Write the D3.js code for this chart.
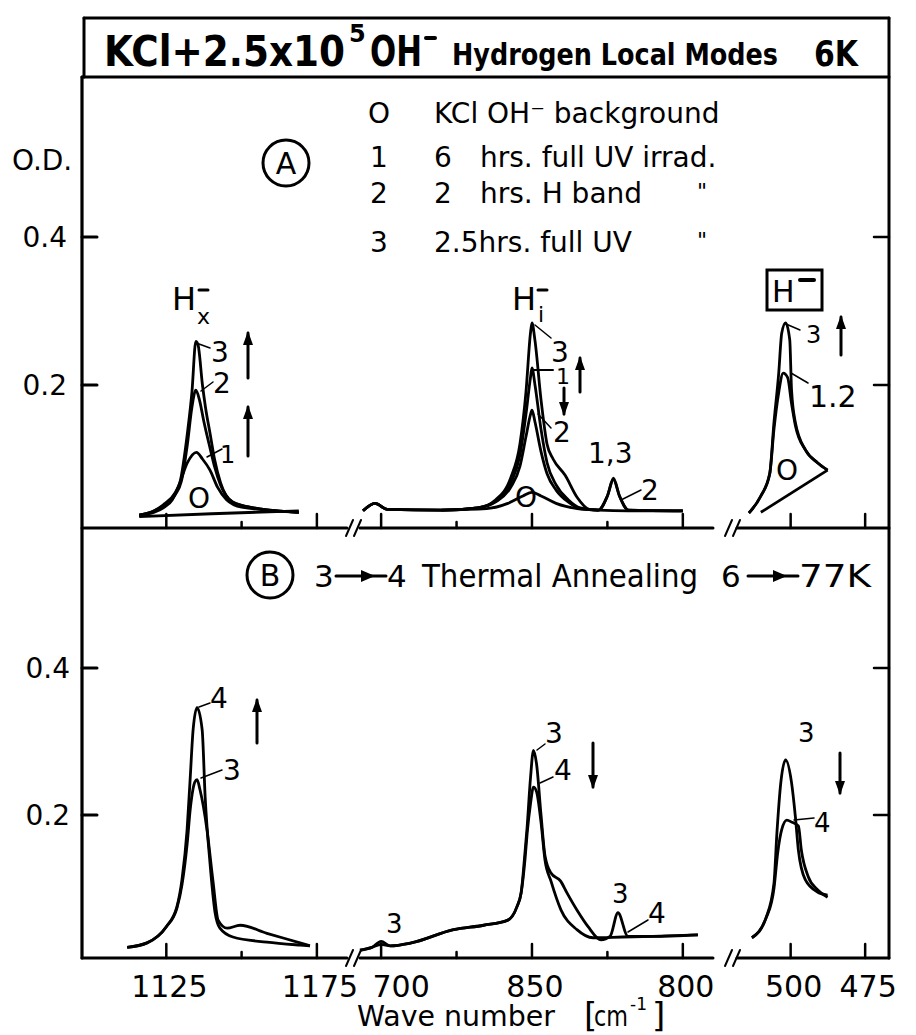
<!DOCTYPE html>
<html>
<head>
<meta charset="utf-8">
<script src="https://cdn.jsdelivr.net/npm/d3@7"></script>
<style>
body { margin: 0; background: #fff; }
svg text { font-family: "DejaVu Sans", sans-serif; fill: #000; }
</style>
</head>
<body>
<svg id="chart" width="916" height="1035"></svg>
<script>
// ---- values (wave number, O.D.) ----
// panel A, H_x- region
const aHx0 = [[1116,0.022],[1140,0.026],[1169,0.03]]
const aHx1 = [[1116,0.024],[1121,0.028],[1124,0.034],[1127,0.045],[1129.5,0.068],[1132,0.095],[1135,0.109],[1137,0.1],[1139.5,0.085],[1142,0.062],[1145,0.045],[1150,0.035],[1169,0.028]]
const aHx2 = [[1116,0.024],[1121,0.03],[1124,0.037],[1128,0.052],[1130,0.07],[1132,0.12],[1133.5,0.17],[1134.8,0.193],[1136,0.18],[1137.5,0.15],[1139.5,0.115],[1141,0.09],[1143,0.065],[1147,0.042],[1154,0.034],[1169,0.028]]
const aHx3 = [[1116,0.024],[1121,0.03],[1124,0.038],[1128,0.055],[1129.5,0.068],[1132,0.135],[1133.5,0.19],[1134.8,0.259],[1135.5,0.255],[1137,0.2],[1138,0.17],[1139.5,0.135],[1141,0.1],[1143,0.068],[1147,0.042],[1154,0.034],[1169,0.028]]
// panel A, H_i- region
const aHi0 = [[880,0.031],[865,0.033],[858,0.04],[853,0.05],[850,0.055],[847,0.05],[842,0.04],[835,0.033],[828,0.031]]
const aHi1 = [[906,0.03],[902,0.04],[898,0.032],[880,0.031],[868,0.034],[862,0.043],[857,0.068],[854,0.105],[852,0.16],[850.5,0.21],[850,0.223],[849,0.2],[847,0.14],[845,0.095],[842,0.065],[838,0.045],[834,0.034],[828,0.031],[825,0.05],[823,0.072],[821,0.05],[818,0.031],[800,0.03]]
const aHi2 = [[906,0.03],[902,0.04],[898,0.032],[880,0.031],[868,0.034],[862,0.042],[857,0.062],[854,0.09],[852,0.13],[850.5,0.16],[850,0.166],[849,0.15],[847,0.11],[845,0.08],[842,0.058],[838,0.042],[834,0.033],[828,0.031],[818,0.03],[800,0.03]]
const aHi3 = [[906,0.03],[902,0.04],[898,0.032],[880,0.031],[868,0.034],[862,0.045],[857,0.075],[854,0.12],[852,0.19],[850.5,0.27],[850,0.284],[849,0.26],[847,0.18],[845,0.12],[843,0.1],[839,0.078],[835,0.048],[831,0.032],[828,0.031],[825,0.05],[823,0.074],[821,0.05],[818,0.031],[800,0.03]]
// panel A, H- region
const aHm0 = [[510,0.028],[487.6,0.085]]
const aHm12 = [[514,0.027],[510,0.05],[507,0.08],[505.6,0.14],[504,0.19],[502.5,0.216],[501,0.21],[499.7,0.175],[498.4,0.145],[495,0.112],[491,0.095],[487.6,0.085]]
const aHm3 = [[514,0.027],[510,0.05],[507,0.081],[505.6,0.149],[504,0.216],[503,0.27],[501.7,0.284],[500.3,0.261],[499.7,0.193],[498.4,0.149],[495,0.112],[491,0.095],[487.6,0.085]]
// panel B
const bHx3 = [[1112,0.02],[1118.6,0.026],[1125,0.048],[1128.5,0.073],[1130.2,0.105],[1131.9,0.16],[1133,0.21],[1134.5,0.245],[1135.2,0.248],[1136.2,0.234],[1138.5,0.18],[1140.5,0.11],[1142.2,0.057],[1145.2,0.046],[1149.5,0.05],[1158.4,0.039],[1169.4,0.026],[1172.7,0.022]]
const bHx4 = [[1112,0.02],[1118.6,0.026],[1125,0.048],[1128.5,0.075],[1130.2,0.112],[1131.9,0.18],[1132.9,0.248],[1133.9,0.316],[1135.2,0.346],[1136.9,0.316],[1137.9,0.224],[1139.5,0.135],[1141.2,0.067],[1142.8,0.046],[1147.1,0.034],[1158.4,0.027],[1169.4,0.023],[1172.7,0.022]]
const bHi3 = [[907,0.016],[903,0.02],[900,0.028],[897,0.022],[890,0.026],[876,0.044],[866,0.05],[858,0.057],[855,0.075],[853.6,0.094],[852.3,0.15],[851.6,0.184],[850.5,0.25],[849.5,0.288],[848.5,0.27],[847,0.2],[845.7,0.145],[843.7,0.121],[840.5,0.11],[838.4,0.094],[835,0.07],[831.4,0.048],[827.1,0.03],[824.1,0.035],[821.5,0.067],[818.2,0.035],[810,0.035],[795,0.037]]
const bHi4 = [[907,0.016],[903,0.02],[900,0.024],[897,0.022],[890,0.026],[876,0.044],[866,0.05],[858,0.057],[855,0.075],[853.6,0.094],[852.3,0.14],[851.6,0.175],[850.5,0.215],[849.5,0.238],[848.5,0.232],[847,0.19],[845.7,0.139],[843.7,0.11],[840.4,0.071],[835.1,0.044],[829.8,0.033],[820,0.034],[810,0.035],[795,0.037]]
const bHm3 = [[513,0.033],[508.2,0.061],[505.6,0.107],[504.6,0.176],[503.3,0.244],[501.7,0.275],[499.7,0.244],[498.4,0.197],[497.4,0.152],[495.1,0.112],[490.9,0.095],[487.6,0.091]]
const bHm4 = [[513,0.033],[508.2,0.06],[505.6,0.1],[504.3,0.15],[503,0.18],[501.3,0.193],[499.5,0.19],[497.4,0.185],[496.4,0.152],[494.1,0.116],[490.9,0.098],[487.6,0.088]]

// axes
const yTicks = [0.2, 0.4]
const yTickLabels = ["0.2", "0.4"]
const xTickSegs = ["L", "L", "L", "M", "M", "M", "M", "M", "R", "R"]
const xTickVals = [1125, 1150, 1175, 900, 875, 850, 825, 800, 500, 475]
const xTickLabels = ["1125", "", "1175", "700", "", "850", "", "800", "500", "475"]

// legend of panel A
const legendKeys = ["O", "1", "2", "3"]
const legendNums = ["KCl OH\u207B background", "6", "2", "2.5hrs. full UV"]
const legendText = ["", "hrs. full UV irrad.", "hrs. H band", ""]
const legendDitto = [false, false, true, true]

// ---- layout ----
const svg = d3.select("#chart")
const ink = "#000"
const frame = {left: 82, right: 889, top: 18, titleBottom: 77, mid: 528, bottom: 958}

const x = {
    L: d3.scaleLinear().domain([1097, 1185]).range([82, 347]),
    M: d3.scaleLinear().domain([907, 790]).range([360, 713]),
    R: d3.scaleLinear().domain([518, 467]).range([737, frame.right])
}
const yA = d3.scaleLinear().domain([0, 0.4]).range([533, 237])
const yB = d3.scaleLinear().domain([0, 0.4]).range([962, 668])

const drawCurve = (data, xs, ys, w = 2.8) => {
    const line = d3.line().x(d => xs(d[0])).y(d => ys(d[1])).curve(d3.curveMonotoneX)
    svg.append("path").datum(data)
        .attr("d", line)
        .attr("fill", "none")
        .attr("stroke", ink)
        .attr("stroke-width", w)
        .attr("stroke-linejoin", "round")
}

const seg = (x1, y1, x2, y2, w = 2.5) => svg.append("line")
    .attr("x1", x1).attr("y1", y1).attr("x2", x2).attr("y2", y2)
    .attr("stroke", ink).attr("stroke-width", w).attr("stroke-linecap", "round")

const label = (tx, px, py, size = 28, anchor = "start") => svg.append("text")
    .attr("x", px).attr("y", py)
    .attr("font-size", size)
    .attr("text-anchor", anchor)
    .text(tx)

// arrow: shaft from y1 to y2, head at y2
const arrow = (px, y1, y2) => {
    seg(px, y1, px, y2, 3)
    const d = y2 < y1 ? -1 : 1
    svg.append("path")
        .attr("d", `M${px},${y2 + d * 2} L${px - 5},${y2 - d * 12} L${px + 5},${y2 - d * 12} Z`)
        .attr("fill", ink)
}

// ---- frame ----
seg(frame.left + 2, frame.top, frame.right, frame.top, 3)
seg(frame.left + 2, frame.top, frame.left + 2, frame.titleBottom, 3)
seg(frame.left, frame.titleBottom, frame.right, frame.titleBottom, 3)
seg(frame.left, frame.titleBottom, frame.left, frame.bottom, 3.2)
seg(frame.right, frame.top, frame.right, frame.bottom, 3)

// broken horizontal axes (panel A bottom and panel B bottom)
const axisParts = [["L", 1097, 1185], ["M", 907, 790], ["R", 518, 467]]
;[frame.mid, frame.bottom].forEach(yy => {
    axisParts.forEach(p => seg(x[p[0]](p[1]), yy, x[p[0]](p[2]), yy, 3))
    ;[x.L(1185) + 3, x.R(518) - 8].forEach(bx => {
        seg(bx - 4, yy + 8, bx + 3, yy - 8, 2)
        seg(bx + 4, yy + 8, bx + 11, yy - 8, 2)
    })
    xTickVals.forEach((v, i) => {
        const px = x[xTickSegs[i]](v)
        const len = xTickLabels[i] ? 14 : 6
        seg(px, yy, px, yy - len, 2.5)
    })
})

// bottom tick labels
xTickVals.forEach((v, i) => {
    if (!xTickLabels[i]) return
    const px = x[xTickSegs[i]](v) + (xTickLabels[i] === "700" ? 20 : 3)
    label(xTickLabels[i], px, 997, 30, "middle")
})

// y ticks both panels, both sides
;[[yA, 0], [yB, 3]].forEach(([ys, off]) => {
    yTicks.forEach((t, i) => {
        seg(frame.left, ys(t), frame.left + 15, ys(t), 3)
        seg(frame.right - 15, ys(t), frame.right, ys(t), 2.5)
        label(yTickLabels[i], 67 + off, ys(t) + 10, 28, "end")
    })
})
label("O.D.", 12, 170, 28)

// ---- title ----
svg.append("text").attr("x", 104).attr("y", 66).attr("font-size", 42).attr("font-weight", "bold")
    .attr("textLength", 241).attr("lengthAdjust", "spacingAndGlyphs").text("KCl+2.5x10")
label("5", 349, 42, 24).attr("font-weight", "bold")
svg.append("text").attr("x", 370).attr("y", 66).attr("font-size", 42).attr("font-weight", "bold")
    .attr("textLength", 52).attr("lengthAdjust", "spacingAndGlyphs").text("OH")
seg(426, 38, 435, 38, 4)
svg.append("text").attr("x", 452).attr("y", 65).attr("font-size", 30).attr("font-weight", "bold")
    .attr("textLength", 326).attr("lengthAdjust", "spacingAndGlyphs").text("Hydrogen Local Modes")
svg.append("text").attr("x", 814).attr("y", 66).attr("font-size", 36).attr("font-weight", "bold")
    .attr("textLength", 44).attr("lengthAdjust", "spacingAndGlyphs").text("6K")

// ---- panel A legend ----
svg.append("circle").attr("cx", 286).attr("cy", 163).attr("r", 23)
    .attr("fill", "none").attr("stroke", ink).attr("stroke-width", 3)
label("A", 286, 174, 30, "middle")
const rowY = [123, 167, 203, 252]
legendKeys.forEach((k, i) => {
    label(k, 379, rowY[i], 28, "middle")
    label(legendNums[i], 434, rowY[i], 28)
    if (legendText[i]) label(legendText[i], 480, rowY[i], 28)
    if (legendDitto[i]) label("\"", 697, rowY[i] - 4, 22)
})

// ---- panel A curves ----
;[aHx0, aHx1, aHx2, aHx3].forEach(c => drawCurve(c, x.L, yA))
;[aHi0, aHi1, aHi2, aHi3].forEach(c => drawCurve(c, x.M, yA))
;[aHm0, aHm12, aHm3].forEach(c => drawCurve(c, x.R, yA))

// H_x- label
label("H", 172, 310, 32)
seg(199, 290, 208, 290, 3)
label("x", 197, 324, 22)
// H_i- label
label("H", 512, 310, 32)
seg(538, 290, 547, 290, 3)
label("i", 538, 322, 22)
// boxed H- label
svg.append("rect").attr("x", 767).attr("y", 270).attr("width", 55).attr("height", 40)
    .attr("fill", "none").attr("stroke", ink).attr("stroke-width", 3)
label("H", 772, 302, 30)
seg(800, 280, 814, 280, 4)

// peak labels panel A
seg(199, 344, 210, 348, 1.5); label("3", 211, 362, 28)
seg(201, 391, 213, 382, 1.5); label("2", 213, 393, 28)
seg(207, 457, 222, 449, 1.5); label("1", 220, 463, 24)
arrow(248, 378, 333)
arrow(248, 456, 407)
label("O", 199, 508, 28, "middle")

seg(535, 325, 551, 338, 1.5); label("3", 551, 362, 28)
seg(534, 370, 553, 370, 2)
label("1", 556, 384, 22)
arrow(564, 388, 414)
arrow(580, 392, 358)
seg(538, 414, 551, 428, 1.5); label("2", 553, 442, 28)
label("1,3", 588, 463, 28)
seg(621, 500, 641, 490, 1.5); label("2", 641, 500, 28)
label("O", 526, 507, 28, "middle")

seg(786, 324, 800, 330, 1.5); label("3", 806, 343, 24)
arrow(841, 355, 317)
seg(791, 373, 808, 383, 1.5); label("1.2", 809, 407, 30)
label("O", 787, 480, 28, "middle")

// ---- panel B ----
svg.append("circle").attr("cx", 270).attr("cy", 575).attr("r", 23)
    .attr("fill", "none").attr("stroke", ink).attr("stroke-width", 3)
label("B", 270, 586, 30, "middle")
const rightArrow = (x1, x2, yy) => {
    seg(x1, yy, x2, yy, 3)
    const hx = (x1 + x2) / 2 + 6
    svg.append("path").attr("d", `M${hx + 8},${yy} L${hx - 6},${yy - 6} L${hx - 6},${yy + 6} Z`).attr("fill", ink)
}
label("3", 314, 587, 31)
rightArrow(336, 386, 576)
label("4", 387, 587, 31)
svg.append("text").attr("x", 422).attr("y", 587).attr("font-size", 32)
    .attr("textLength", 276).attr("lengthAdjust", "spacingAndGlyphs").text("Thermal Annealing")
label("6", 721, 587, 31)
rightArrow(748, 798, 576)
svg.append("text").attr("x", 799).attr("y", 587).attr("font-size", 32)
    .attr("textLength", 72).attr("lengthAdjust", "spacingAndGlyphs").text("77K")

;[bHx3, bHx4].forEach(c => drawCurve(c, x.L, yB))
;[bHi3, bHi4].forEach(c => drawCurve(c, x.M, yB))
;[bHm3, bHm4].forEach(c => drawCurve(c, x.R, yB))

seg(199, 707, 210, 703, 1.5); label("4", 210, 708, 28)
seg(201, 778, 222, 770, 1.5); label("3", 223, 780, 28)
arrow(257, 743, 700)

seg(537, 750, 545, 744, 1.5); label("3", 545, 743, 28)
seg(540, 783, 553, 777, 1.5); label("4", 554, 780, 28)
arrow(593, 743, 787)
label("3", 386, 933, 26)
label("3", 612, 903, 26)
seg(628, 932, 648, 920, 1.5); label("4", 648, 923, 28)

label("3", 798, 742, 26)
seg(794, 820, 814, 818, 1.5); label("4", 814, 832, 26)
arrow(840, 753, 793)

// ---- x axis title ----
svg.append("text").attr("x", 357).attr("y", 1026).attr("font-size", 28)
    .attr("textLength", 198).attr("lengthAdjust", "spacingAndGlyphs").text("Wave number")
label("[", 584, 1027, 34)
svg.append("text").attr("x", 594).attr("y", 1026).attr("font-size", 28)
    .attr("textLength", 34).attr("lengthAdjust", "spacingAndGlyphs").text("cm")
label("-1", 630, 1010, 17)
label("]", 652, 1027, 34)
</script>
</body>
</html>
